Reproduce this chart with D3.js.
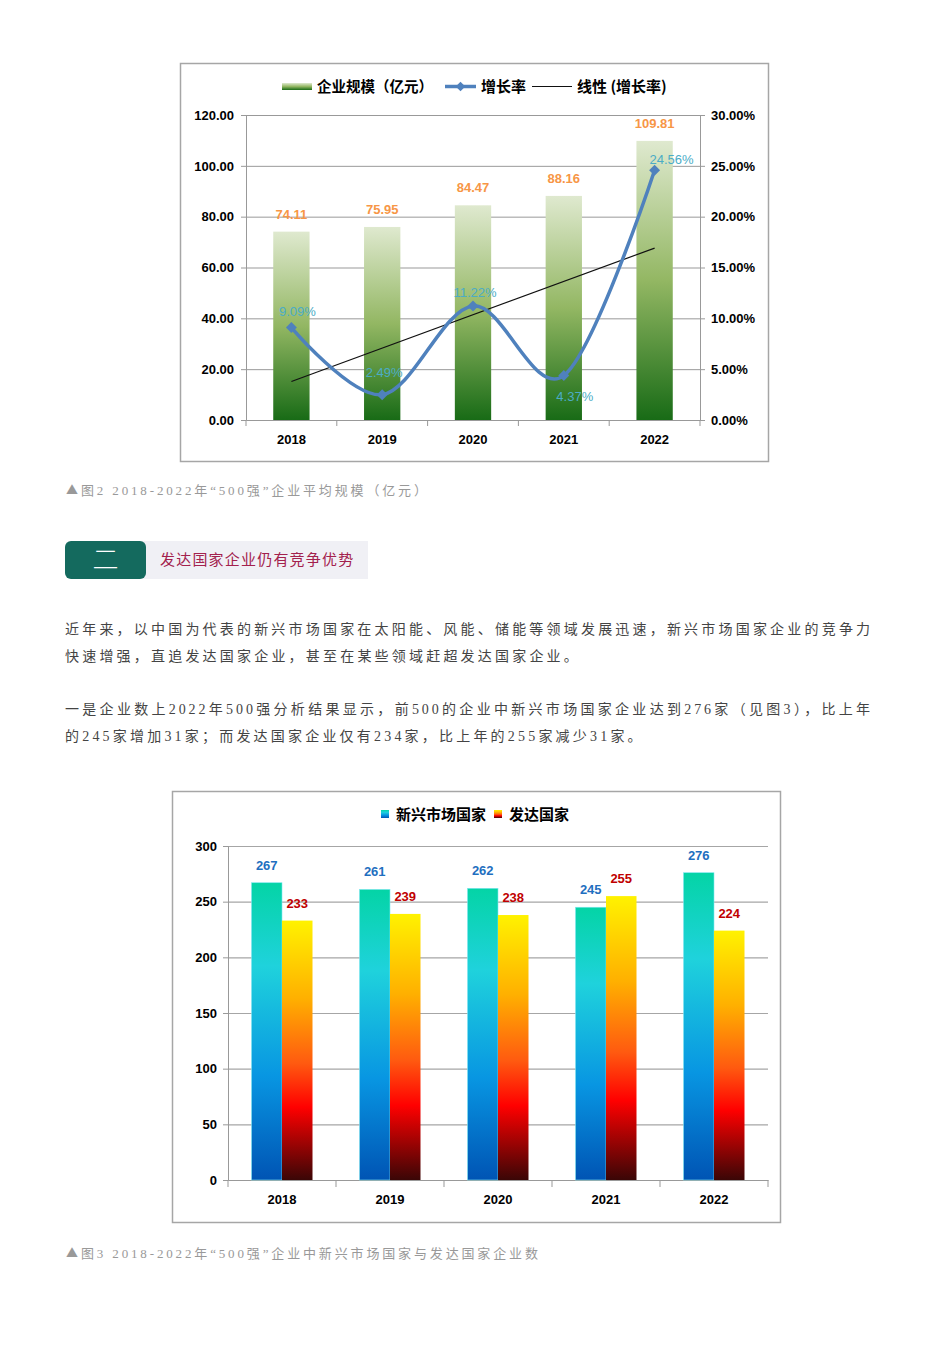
<!DOCTYPE html>
<html lang="zh">
<head>
<meta charset="UTF-8">
<title>500强企业图表</title>
<script src="https://d3js.org/d3.v7.min.js"></script>
<style>
    body { margin: 0; background: #fff; width: 950px; height: 1345px; position: relative; overflow: hidden; }
    #page { position: absolute; left: 0; top: 0; }
    .caption { position: absolute; left: 66px; font-family: "Liberation Serif", "Noto Sans CJK SC", serif; font-size: 13px; color: #999; letter-spacing: 2.85px; white-space: nowrap; }
    .caption .tri { font-family: "Noto Sans CJK SC", sans-serif; font-size: 12px; letter-spacing: 3px; }
    .para { position: absolute; left: 65px; width: 808px; font-family: "Liberation Serif", "Noto Sans CJK SC", serif; font-size: 14px; color: #444; letter-spacing: 3.2px; line-height: 27px; }
    .para .full { text-align: justify; text-align-last: justify; white-space: nowrap; letter-spacing: 2.9px; }
    .para div { height: 27px; }
    .head-title { position: absolute; left: 160px; top: 548px; font-family: "Noto Sans CJK SC", serif; font-size: 15px; color: #a3214d; letter-spacing: 1.2px; }
</style>
</head>
<body>
<svg id="page" width="950" height="1345"></svg>

<div class="caption" style="top:480px"><span class="tri">▲</span>图2 2018-2022年“500强”企业平均规模（亿元）</div>
<div class="head-title">发达国家企业仍有竞争优势</div>
<div class="para" style="top:616px">
    <div class="full">近年来，以中国为代表的新兴市场国家在太阳能、风能、储能等领域发展迅速，新兴市场国家企业的竞争力</div>
    <div>快速增强，直追发达国家企业，甚至在某些领域赶超发达国家企业。</div>
</div>
<div class="para" style="top:696px">
    <div class="full">一是企业数上2022年500强分析结果显示，前500的企业中新兴市场国家企业达到276家（见图3），比上年</div>
    <div>的245家增加31家；而发达国家企业仅有234家，比上年的255家减少31家。</div>
</div>
<div class="caption" style="top:1243px"><span class="tri">▲</span>图3 2018-2022年“500强”企业中新兴市场国家与发达国家企业数</div>

<script>
    // chart data
    const years = ["2018", "2019", "2020", "2021", "2022"];
    const avgScale = [74.11, 75.95, 84.47, 88.16, 109.81];      // 企业规模（亿元）
    const growthRate = [9.09, 2.49, 11.22, 4.37, 24.56];        // 增长率 %
    const scaleTicks = [0, 20, 40, 60, 80, 100, 120];
    const rateTicks = [0, 5, 10, 15, 20, 25, 30];

    const emerging = [267, 261, 262, 245, 276];                // 新兴市场国家
    const developed = [233, 239, 238, 255, 224];               // 发达国家
    const countTicks = [0, 50, 100, 150, 200, 250, 300];

    function program() {
        const svg = d3.select("#page");
        const defs = svg.append("defs");
        const tickFont = "'Liberation Sans', Arial, sans-serif";
        const cjkFont = "'Noto Sans CJK SC', sans-serif";

        function vGrad(id, stops) {
            const g = defs.append("linearGradient").attr("id", id)
                .attr("x1", 0).attr("y1", 0).attr("x2", 0).attr("y2", 1);
            stops.forEach(s => g.append("stop").attr("offset", s[0]).attr("stop-color", s[1]));
        }
        vGrad("green", [[0, "#dfe9cf"], [0.5, "#93b763"], [1, "#186b16"]]);
        vGrad("blue", [[0, "#04d4a6"], [0.28, "#1fd2dc"], [0.65, "#0896e2"], [1, "#0054b4"]]);
        vGrad("fire", [[0, "#fff200"], [0.3, "#ffb000"], [0.55, "#ff5a10"], [0.72, "#ff0000"], [1, "#3a0606"]]);

        // ---------------- chart 1 ----------------
        svg.append("rect").attr("x", 180.5).attr("y", 63.5).attr("width", 588).attr("height", 398)
            .attr("fill", "#fff").attr("stroke", "#a6a6a6").attr("stroke-width", 1.5);

        const x1 = d3.scaleBand().domain(years).range([246, 700]);
        const yL = d3.scaleLinear().domain([0, 120]).range([420, 115]);
        const yR = d3.scaleLinear().domain([0, 30]).range([420, 115]);

        const c1 = svg.append("g");

        c1.append("g").selectAll("line").data(scaleTicks.slice(1)).join("line")
            .attr("x1", 246).attr("x2", 700)
            .attr("y1", d => yL(d) + 0.5).attr("y2", d => yL(d) + 0.5)
            .attr("stroke", "#999").attr("stroke-width", 1);

        const axL = c1.append("g").attr("transform", "translate(246,0)")
            .call(d3.axisLeft(yL).tickValues(scaleTicks).tickFormat(d3.format(".2f")).tickSize(5).tickPadding(7));
        const axR = c1.append("g").attr("transform", "translate(700,0)")
            .call(d3.axisRight(yR).tickValues(rateTicks).tickFormat(d => d.toFixed(2) + "%").tickSize(5).tickPadding(6));
        const axB = c1.append("g").attr("transform", "translate(0,420)")
            .call(d3.axisBottom(x1).tickSize(0).tickPadding(15));
        [axL, axR, axB].forEach(a => {
            a.selectAll("path,line").attr("stroke", "#999");
            a.selectAll("text").attr("font-family", tickFont).attr("font-size", 13)
                .attr("font-weight", "bold").attr("fill", "#000");
        });
        c1.append("g").selectAll("line").data(d3.range(years.length + 1)).join("line")
            .attr("x1", i => 246 + i * x1.step()).attr("x2", i => 246 + i * x1.step())
            .attr("y1", 420).attr("y2", 426).attr("stroke", "#999");

        const bw1 = x1.bandwidth() * 0.4;
        c1.append("g").selectAll("rect").data(avgScale).join("rect")
            .attr("x", (d, i) => x1(years[i]) + (x1.bandwidth() - bw1) / 2)
            .attr("y", d => yL(d)).attr("width", bw1).attr("height", d => yL(0) - yL(d))
            .attr("fill", "url(#green)");

        c1.append("g").selectAll("text").data(avgScale).join("text")
            .attr("x", (d, i) => x1(years[i]) + x1.bandwidth() / 2)
            .attr("y", d => yL(d) - 13)
            .attr("text-anchor", "middle").attr("font-family", tickFont).attr("font-size", 13)
            .attr("font-weight", "bold").attr("fill", "#f79646").text(d => d.toFixed(2));

        // linear trend of growth rate
        const idx = growthRate.map((d, i) => i);
        const mx = d3.mean(idx), my = d3.mean(growthRate);
        const slope = d3.sum(idx, i => (i - mx) * (growthRate[i] - my)) / d3.sum(idx, i => (i - mx) * (i - mx));
        const trend = i => my + slope * (i - mx);
        const cx = i => x1(years[i]) + x1.bandwidth() / 2;
        c1.append("line")
            .attr("x1", cx(0)).attr("y1", yR(trend(0)))
            .attr("x2", cx(years.length - 1)).attr("y2", yR(trend(years.length - 1)))
            .attr("stroke", "#111").attr("stroke-width", 1.2);

        c1.append("path").datum(growthRate)
            .attr("d", d3.line().x((d, i) => cx(i)).y(d => yR(d)).curve(d3.curveCatmullRom.alpha(0)))
            .attr("fill", "none").attr("stroke", "#4f81bd").attr("stroke-width", 3.5);
        c1.append("g").selectAll("path").data(growthRate).join("path")
            .attr("d", d3.symbol(d3.symbolSquare, 60))
            .attr("transform", (d, i) => `translate(${cx(i)},${yR(d)}) rotate(45)`)
            .attr("fill", "#4f81bd");

        const rateLabelOffset = [[6, -12], [2, -18], [2, -9], [11, 25], [17, -6]];
        c1.append("g").selectAll("text").data(growthRate).join("text")
            .attr("x", (d, i) => cx(i) + rateLabelOffset[i][0])
            .attr("y", (d, i) => yR(d) + rateLabelOffset[i][1])
            .attr("text-anchor", "middle").attr("font-family", tickFont).attr("font-size", 13)
            .attr("fill", "#4bacc6").text(d => d.toFixed(2) + "%");

        // legend 1
        const lg1 = svg.append("g");
        lg1.append("rect").attr("x", 282).attr("y", 83).attr("width", 30).attr("height", 7).attr("fill", "url(#green)");
        lg1.append("text").attr("x", 317).attr("y", 92).attr("font-family", cjkFont).attr("font-size", 14.5)
            .attr("font-weight", "bold").text("企业规模（亿元）");
        lg1.append("line").attr("x1", 445).attr("x2", 476).attr("y1", 86.5).attr("y2", 86.5)
            .attr("stroke", "#4f81bd").attr("stroke-width", 3.5);
        lg1.append("path").attr("d", d3.symbol(d3.symbolSquare, 45))
            .attr("transform", "translate(460.5,86.5) rotate(45)").attr("fill", "#4f81bd");
        lg1.append("text").attr("x", 481).attr("y", 92).attr("font-family", cjkFont).attr("font-size", 15)
            .attr("font-weight", "bold").text("增长率");
        lg1.append("line").attr("x1", 532).attr("x2", 572).attr("y1", 86.5).attr("y2", 86.5)
            .attr("stroke", "#111").attr("stroke-width", 1.2);
        lg1.append("text").attr("x", 577).attr("y", 92).attr("font-family", cjkFont).attr("font-size", 15)
            .attr("font-weight", "bold").text("线性 (增长率)");

        // ---------------- section header ----------------
        svg.append("rect").attr("x", 140).attr("y", 541).attr("width", 228).attr("height", 38).attr("fill", "#f0f0f5");
        svg.append("rect").attr("x", 65).attr("y", 541).attr("width", 81).attr("height", 38).attr("rx", 6)
            .attr("fill", "#146a5e");
        svg.append("text").attr("x", 105.5).attr("y", 569).attr("text-anchor", "middle")
            .attr("font-family", cjkFont).attr("font-size", 26).attr("font-weight", 300)
            .attr("fill", "#fff").text("二");

        // ---------------- chart 2 ----------------
        svg.append("rect").attr("x", 172.5).attr("y", 791.5).attr("width", 608).attr("height", 431)
            .attr("fill", "#fff").attr("stroke", "#a6a6a6").attr("stroke-width", 1.5);

        const x2 = d3.scaleBand().domain(years).range([228, 768]);
        const pair = 61;
        const xs = d3.scaleBand().domain(["emerging", "developed"]).range([0, pair]);
        const y2 = d3.scaleLinear().domain([0, 300]).range([1180, 846]);

        const c2 = svg.append("g");
        c2.append("g").selectAll("line").data(countTicks.slice(1)).join("line")
            .attr("x1", 228).attr("x2", 768)
            .attr("y1", d => y2(d) + 0.5).attr("y2", d => y2(d) + 0.5)
            .attr("stroke", "#a6a6a6").attr("stroke-width", 1.2);

        const ax2L = c2.append("g").attr("transform", "translate(228,0)")
            .call(d3.axisLeft(y2).tickValues(countTicks).tickSize(5).tickPadding(6));
        const ax2B = c2.append("g").attr("transform", "translate(0,1180)")
            .call(d3.axisBottom(x2).tickSize(0).tickPadding(15));
        [ax2L, ax2B].forEach(a => {
            a.selectAll("path,line").attr("stroke", "#999");
            a.selectAll("text").attr("font-family", tickFont).attr("font-size", 13)
                .attr("font-weight", "bold").attr("fill", "#000");
        });
        c2.append("g").selectAll("line").data(d3.range(years.length + 1)).join("line")
            .attr("x1", i => 228 + i * x2.step()).attr("x2", i => 228 + i * x2.step())
            .attr("y1", 1180).attr("y2", 1187).attr("stroke", "#999");

        const off = (x2.bandwidth() - pair) / 2;
        const series = [
            { key: "emerging", values: emerging, fill: "url(#blue)", stroke: "#7fe6f0", label: "#1f6fc0" },
            { key: "developed", values: developed, fill: "url(#fire)", stroke: "none", label: "#c00000" }
        ];
        series.forEach(s => {
            c2.append("g").selectAll("rect").data(s.values).join("rect")
                .attr("x", (d, i) => x2(years[i]) + off + xs(s.key))
                .attr("y", d => y2(d)).attr("width", xs.bandwidth()).attr("height", d => y2(0) - y2(d))
                .attr("fill", s.fill).attr("stroke", s.stroke).attr("stroke-width", 0.6);
            c2.append("g").selectAll("text").data(s.values).join("text")
                .attr("x", (d, i) => x2(years[i]) + off + xs(s.key) + xs.bandwidth() / 2)
                .attr("y", d => y2(d) - 13)
                .attr("text-anchor", "middle").attr("font-family", tickFont).attr("font-size", 13)
                .attr("font-weight", "bold").attr("fill", s.label).text(d => d);
        });

        // legend 2
        const lg2 = svg.append("g");
        lg2.append("rect").attr("x", 381).attr("y", 810).attr("width", 8).attr("height", 8).attr("fill", "url(#blue)");
        lg2.append("text").attr("x", 396).attr("y", 820).attr("font-family", cjkFont).attr("font-size", 15)
            .attr("font-weight", "bold").text("新兴市场国家");
        lg2.append("rect").attr("x", 494).attr("y", 810).attr("width", 8).attr("height", 8).attr("fill", "url(#fire)");
        lg2.append("text").attr("x", 509).attr("y", 820).attr("font-family", cjkFont).attr("font-size", 15)
            .attr("font-weight", "bold").text("发达国家");
    }

    program();
</script>
</body>
</html>
